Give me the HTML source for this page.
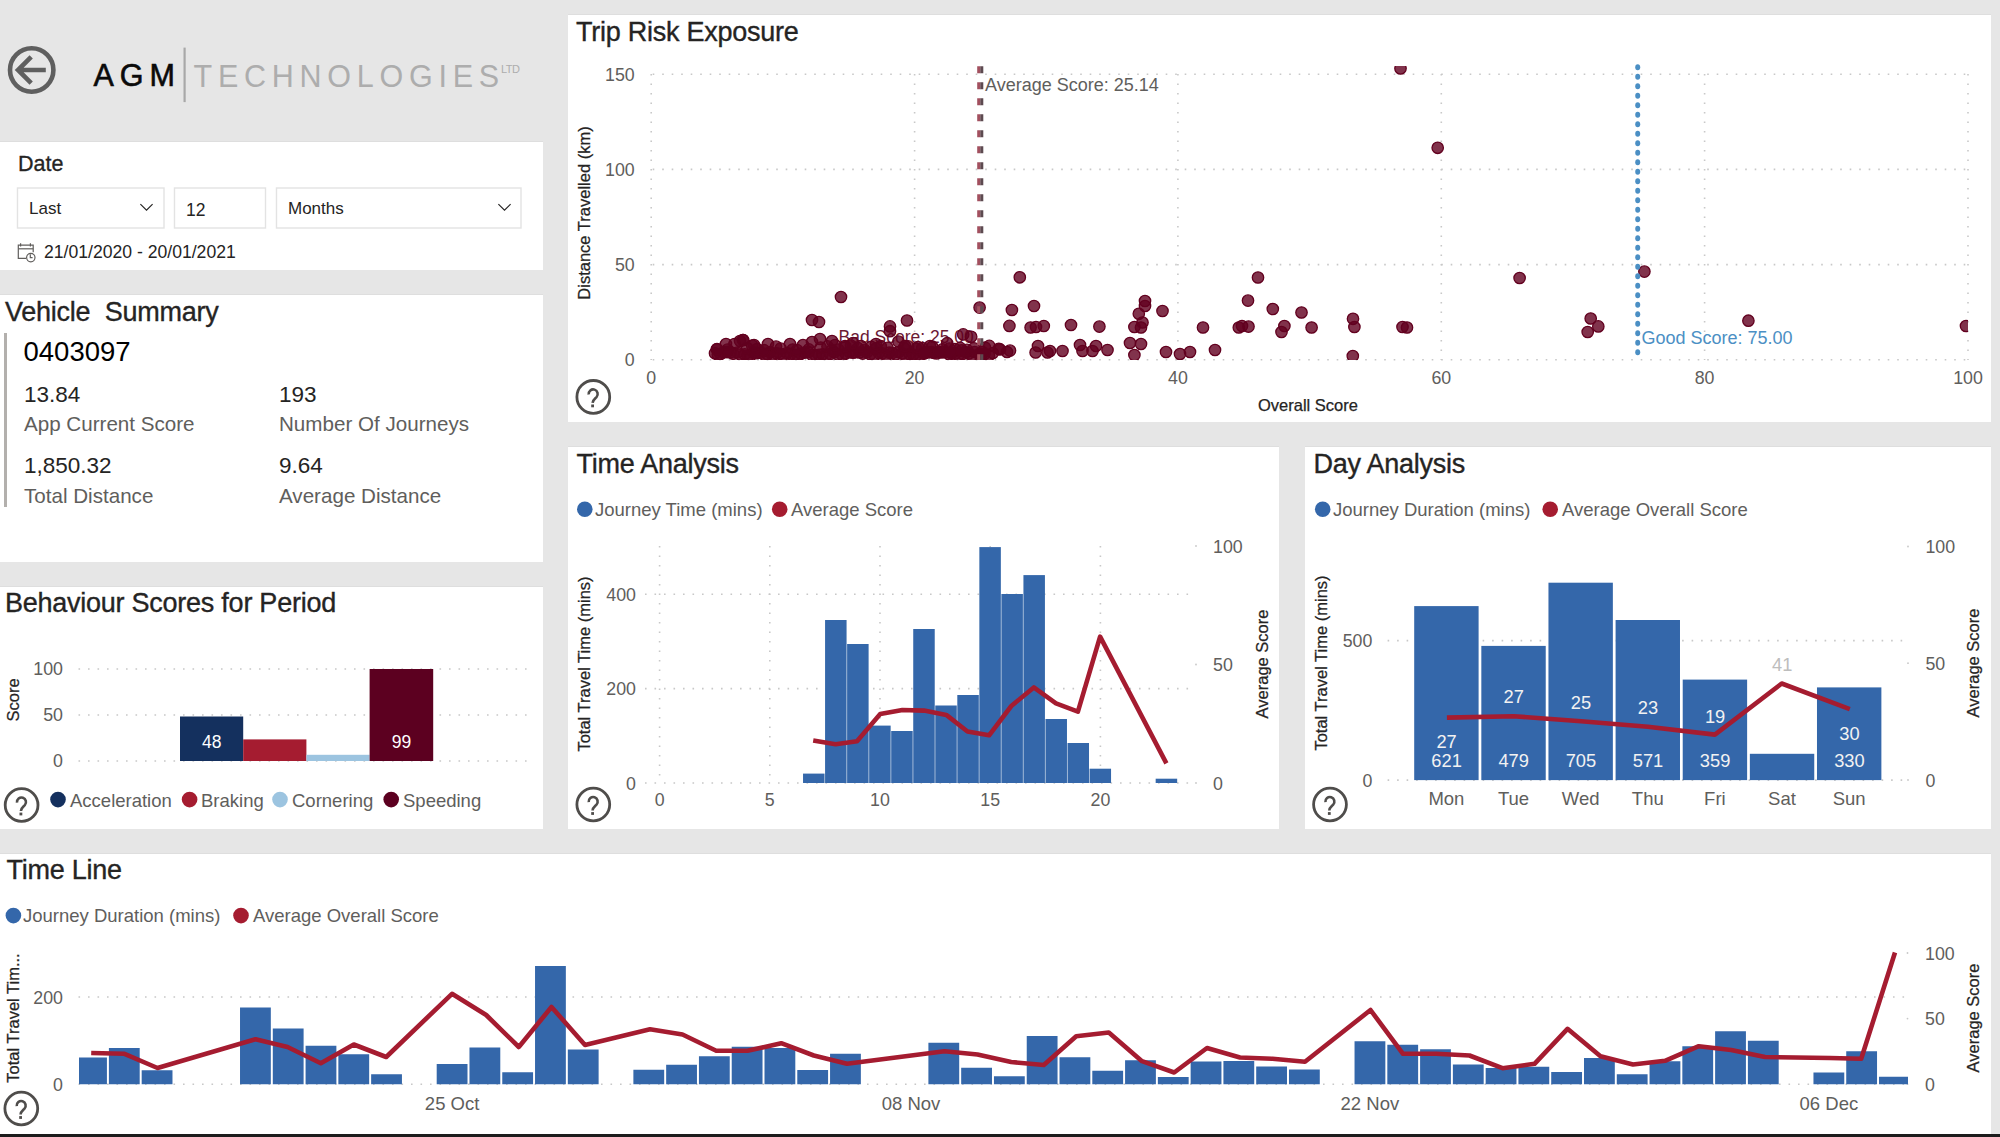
<!DOCTYPE html>
<html><head><meta charset="utf-8"><title>AGM Technologies - Vehicle Dashboard</title>
<style>
html,body{margin:0;padding:0;width:2000px;height:1137px;overflow:hidden;background:#e6e6e6;font-family:"Liberation Sans",sans-serif;}
.page{position:relative;width:2000px;height:1137px;}
</style></head><body><div class="page">
<svg width="2000" height="1137" viewBox="0 0 2000 1137" style="position:absolute;left:0;top:0" font-family='"Liberation Sans", sans-serif'>
<rect x="0.00" y="0.00" width="2000.00" height="1137.00" fill="#e6e6e6" />
<rect x="0.00" y="141.00" width="543.00" height="1.00" fill="#dedede" />
<rect x="0.00" y="142.00" width="543.00" height="128.00" fill="#ffffff" />
<rect x="0.00" y="294.00" width="543.00" height="1.00" fill="#dedede" />
<rect x="0.00" y="295.00" width="543.00" height="267.00" fill="#ffffff" />
<rect x="0.00" y="586.00" width="543.00" height="1.00" fill="#dedede" />
<rect x="0.00" y="587.00" width="543.00" height="242.00" fill="#ffffff" />
<rect x="568.00" y="14.00" width="1423.00" height="1.00" fill="#dedede" />
<rect x="568.00" y="15.00" width="1423.00" height="407.00" fill="#ffffff" />
<rect x="568.00" y="446.00" width="711.00" height="1.00" fill="#dedede" />
<rect x="568.00" y="447.00" width="711.00" height="382.00" fill="#ffffff" />
<rect x="1305.00" y="446.00" width="686.00" height="1.00" fill="#dedede" />
<rect x="1305.00" y="447.00" width="686.00" height="382.00" fill="#ffffff" />
<rect x="0.00" y="853.00" width="1991.00" height="1.00" fill="#dedede" />
<rect x="0.00" y="854.00" width="1991.00" height="280.00" fill="#ffffff" />
<rect x="0.00" y="1134.00" width="2000.00" height="3.00" fill="#1c1c1c" />
<g fill="none" stroke="#5f5f5f" stroke-width="4.6"><circle cx="31.7" cy="70" r="21.7"/><path d="M45.8,70 H18.5 M31.2,56.8 L18,70 L31.2,83.2"/></g>
<text x="93.5" y="86.3" font-size="30.5" fill="#0a0a0a" text-anchor="start" font-weight="normal" letter-spacing="6" stroke="#0a0a0a" stroke-width="0.6">AGM</text>
<rect x="183.50" y="47.60" width="2.20" height="54.50" fill="#a8a8a8" />
<text x="193.5" y="86.5" font-size="30.5" fill="#adadad" text-anchor="start" font-weight="normal" letter-spacing="5.75">TECHNOLOGIES</text>
<text x="501.0" y="73.0" font-size="11" fill="#adadad" text-anchor="start" font-weight="normal" letter-spacing="-0.5">LTD</text>
<text x="18.0" y="171.0" font-size="21.5" fill="#252423" text-anchor="start" font-weight="normal" stroke="#252423" stroke-width="0.3">Date</text>
<rect x="17.5" y="188" width="146.5" height="40" fill="#fff" stroke="#e3e3e3" stroke-width="1.4"/>
<rect x="174.5" y="188" width="91.0" height="40" fill="#fff" stroke="#e3e3e3" stroke-width="1.4"/>
<rect x="276.5" y="188" width="244.5" height="40" fill="#fff" stroke="#e3e3e3" stroke-width="1.4"/>
<text x="29.0" y="214.0" font-size="17" fill="#252423" text-anchor="start" font-weight="normal" >Last</text>
<text x="186.0" y="216.0" font-size="17.5" fill="#252423" text-anchor="start" font-weight="normal" >12</text>
<text x="288.0" y="214.0" font-size="17" fill="#252423" text-anchor="start" font-weight="normal" >Months</text>
<path d="M140.4,204.2 L146.5,210.2 L152.6,204.2" fill="none" stroke="#252423" stroke-width="1.15"/>
<path d="M498.4,204.2 L504.5,210.2 L510.6,204.2" fill="none" stroke="#252423" stroke-width="1.15"/>
<g fill="none" stroke="#605e5c" stroke-width="1.2"><path d="M26,258.3 H18.3 V245.1 H33.2 V252.3"/><path d="M18.3,248.8 H33.2"/><path d="M20.6,243.3 V246.5 M30.4,243.3 V246.5"/><circle cx="30.8" cy="257.6" r="4.2" fill="#fff"/><path d="M30.3,254.3 V257.6 H32.6"/></g>
<text x="44.0" y="258.0" font-size="17.6" fill="#252423" text-anchor="start" font-weight="normal" >21/01/2020 - 20/01/2021</text>
<text x="5" y="320.5" font-size="27" fill="#252423" stroke="#252423" stroke-width="0.35" letter-spacing="-0.25">Vehicle&#160;&#160;Summary</text>
<rect x="4.00" y="333.00" width="3.00" height="174.00" fill="#b3b0ad" />
<text x="23.5" y="361.0" font-size="27.5" fill="#000000" text-anchor="start" font-weight="normal" >0403097</text>
<text x="24.0" y="402.0" font-size="22.5" fill="#252423" text-anchor="start" font-weight="normal" >13.84</text>
<text x="24.0" y="430.5" font-size="20.6" fill="#605e5c" text-anchor="start" font-weight="normal" >App Current Score</text>
<text x="279.0" y="402.0" font-size="22.5" fill="#252423" text-anchor="start" font-weight="normal" >193</text>
<text x="279.0" y="430.5" font-size="20.6" fill="#605e5c" text-anchor="start" font-weight="normal" >Number Of Journeys</text>
<text x="24.0" y="473.0" font-size="22.5" fill="#252423" text-anchor="start" font-weight="normal" >1,850.32</text>
<text x="24.0" y="502.5" font-size="20.6" fill="#605e5c" text-anchor="start" font-weight="normal" >Total Distance</text>
<text x="279.0" y="473.0" font-size="22.5" fill="#252423" text-anchor="start" font-weight="normal" >9.64</text>
<text x="279.0" y="502.5" font-size="20.6" fill="#605e5c" text-anchor="start" font-weight="normal" >Average Distance</text>
<text x="5" y="612" font-size="27" fill="#252423" stroke="#252423" stroke-width="0.35" letter-spacing="-0.25">Behaviour Scores for Period</text>
<line x1="78.5" y1="669.0" x2="529.0" y2="669.0" stroke="#c8c8c8" stroke-width="1.6" stroke-dasharray="1.6 7.9"/>
<text x="63.0" y="675.3" font-size="17.8" fill="#605e5c" text-anchor="end" font-weight="normal" >100</text>
<line x1="78.5" y1="715.0" x2="529.0" y2="715.0" stroke="#c8c8c8" stroke-width="1.6" stroke-dasharray="1.6 7.9"/>
<text x="63.0" y="721.3" font-size="17.8" fill="#605e5c" text-anchor="end" font-weight="normal" >50</text>
<line x1="78.5" y1="761.0" x2="529.0" y2="761.0" stroke="#c8c8c8" stroke-width="1.6" stroke-dasharray="1.6 7.9"/>
<text x="63.0" y="767.3" font-size="17.8" fill="#605e5c" text-anchor="end" font-weight="normal" >0</text>
<text transform="translate(19,700) rotate(-90)" font-size="16.5" fill="#252423" stroke="#252423" stroke-width="0.25" text-anchor="middle">Score</text>
<rect x="180.00" y="716.50" width="63.20" height="44.50" fill="#14305e" />
<rect x="243.20" y="739.40" width="63.20" height="21.60" fill="#a51c30" />
<rect x="306.40" y="754.80" width="63.20" height="6.20" fill="#9cc4e0" />
<rect x="369.60" y="669.00" width="63.60" height="92.00" fill="#5c0020" />
<text x="211.7" y="748.0" font-size="17.5" fill="#ffffff" text-anchor="middle" font-weight="normal" >48</text>
<text x="401.5" y="748.0" font-size="17.5" fill="#ffffff" text-anchor="middle" font-weight="normal" >99</text>
<g transform="translate(21.6,805)" fill="none" stroke="#4f4d4b" stroke-width="2.8"><circle r="16.4"/><path d="M-4.6,-2.4 A4.5,4.6 0 1 1 3.2,0.2 C1.5,2 -0.6,3.2 -0.7,6" stroke-width="2.6"/><rect x="-2.1" y="7.6" width="2.8" height="2.8" fill="#4f4d4b" stroke="none"/></g>
<circle cx="58" cy="799.6" r="7.8" fill="#14305e"/>
<text x="70.0" y="806.6" font-size="18.5" fill="#605e5c" text-anchor="start" font-weight="normal" >Acceleration</text>
<circle cx="189.6" cy="799.6" r="7.8" fill="#a51c30"/>
<text x="201.0" y="806.6" font-size="18.5" fill="#605e5c" text-anchor="start" font-weight="normal" >Braking</text>
<circle cx="280" cy="799.6" r="7.8" fill="#9cc4e0"/>
<text x="292.0" y="806.6" font-size="18.5" fill="#605e5c" text-anchor="start" font-weight="normal" >Cornering</text>
<circle cx="391.2" cy="799.6" r="7.8" fill="#5c0020"/>
<text x="403.0" y="806.6" font-size="18.5" fill="#605e5c" text-anchor="start" font-weight="normal" >Speeding</text>
<text x="576" y="40.5" font-size="27" fill="#252423" stroke="#252423" stroke-width="0.35" letter-spacing="-0.25">Trip Risk Exposure</text>
<line x1="652.7" y1="359.8" x2="1968.0" y2="359.8" stroke="#c8c8c8" stroke-width="1.6" stroke-dasharray="1.6 7.9"/>
<text x="634.7" y="366.3" font-size="17.8" fill="#605e5c" text-anchor="end" font-weight="normal" >0</text>
<line x1="652.7" y1="264.6" x2="1968.0" y2="264.6" stroke="#c8c8c8" stroke-width="1.6" stroke-dasharray="1.6 7.9"/>
<text x="634.7" y="271.1" font-size="17.8" fill="#605e5c" text-anchor="end" font-weight="normal" >50</text>
<line x1="652.7" y1="169.4" x2="1968.0" y2="169.4" stroke="#c8c8c8" stroke-width="1.6" stroke-dasharray="1.6 7.9"/>
<text x="634.7" y="175.9" font-size="17.8" fill="#605e5c" text-anchor="end" font-weight="normal" >100</text>
<line x1="652.7" y1="74.2" x2="1968.0" y2="74.2" stroke="#c8c8c8" stroke-width="1.6" stroke-dasharray="1.6 7.9"/>
<text x="634.7" y="80.7" font-size="17.8" fill="#605e5c" text-anchor="end" font-weight="normal" >150</text>
<line x1="651.2" y1="74.0" x2="651.2" y2="360.0" stroke="#c8c8c8" stroke-width="1.6" stroke-dasharray="1.6 7.9"/>
<text x="651.2" y="384.0" font-size="17.8" fill="#605e5c" text-anchor="middle" font-weight="normal" >0</text>
<line x1="914.6" y1="74.0" x2="914.6" y2="360.0" stroke="#c8c8c8" stroke-width="1.6" stroke-dasharray="1.6 7.9"/>
<text x="914.6" y="384.0" font-size="17.8" fill="#605e5c" text-anchor="middle" font-weight="normal" >20</text>
<line x1="1177.9" y1="74.0" x2="1177.9" y2="360.0" stroke="#c8c8c8" stroke-width="1.6" stroke-dasharray="1.6 7.9"/>
<text x="1177.9" y="384.0" font-size="17.8" fill="#605e5c" text-anchor="middle" font-weight="normal" >40</text>
<line x1="1441.3" y1="74.0" x2="1441.3" y2="360.0" stroke="#c8c8c8" stroke-width="1.6" stroke-dasharray="1.6 7.9"/>
<text x="1441.3" y="384.0" font-size="17.8" fill="#605e5c" text-anchor="middle" font-weight="normal" >60</text>
<line x1="1704.6" y1="74.0" x2="1704.6" y2="360.0" stroke="#c8c8c8" stroke-width="1.6" stroke-dasharray="1.6 7.9"/>
<text x="1704.6" y="384.0" font-size="17.8" fill="#605e5c" text-anchor="middle" font-weight="normal" >80</text>
<line x1="1968.0" y1="74.0" x2="1968.0" y2="360.0" stroke="#c8c8c8" stroke-width="1.6" stroke-dasharray="1.6 7.9"/>
<text x="1968.0" y="384.0" font-size="17.8" fill="#605e5c" text-anchor="middle" font-weight="normal" >100</text>
<text x="1308.0" y="411.0" font-size="16.5" fill="#252423" text-anchor="middle" font-weight="normal" stroke="#252423" stroke-width="0.25">Overall Score</text>
<text transform="translate(590,213) rotate(-90)" font-size="16.5" fill="#252423" stroke="#252423" stroke-width="0.25" text-anchor="middle">Distance Travelled (km)</text>
<g transform="translate(593.3,396.9)" fill="none" stroke="#4f4d4b" stroke-width="2.8"><circle r="16.4"/><path d="M-4.6,-2.4 A4.5,4.6 0 1 1 3.2,0.2 C1.5,2 -0.6,3.2 -0.7,6" stroke-width="2.6"/><rect x="-2.1" y="7.6" width="2.8" height="2.8" fill="#4f4d4b" stroke="none"/></g>
<defs><clipPath id="sc"><rect x="651" y="66" width="1317" height="294"/></clipPath></defs>
<text x="838.5" y="342.5" font-size="17.5" fill="#6b1a35" text-anchor="start" font-weight="normal" >Bad Score: 25.00</text>
<g clip-path="url(#sc)" fill="#62001f" fill-opacity="0.8" stroke="#62001f" stroke-width="1.3">
<circle cx="715.0" cy="353.3" r="5.7"/>
<circle cx="717.8" cy="354.6" r="5.7"/>
<circle cx="720.4" cy="354.1" r="5.7"/>
<circle cx="723.7" cy="352.2" r="5.7"/>
<circle cx="727.2" cy="352.1" r="5.7"/>
<circle cx="730.6" cy="352.3" r="5.7"/>
<circle cx="733.2" cy="353.7" r="5.7"/>
<circle cx="737.4" cy="352.5" r="5.7"/>
<circle cx="740.3" cy="354.5" r="5.7"/>
<circle cx="744.7" cy="354.3" r="5.7"/>
<circle cx="748.0" cy="355.9" r="5.7"/>
<circle cx="750.6" cy="355.4" r="5.7"/>
<circle cx="753.7" cy="352.6" r="5.7"/>
<circle cx="756.4" cy="353.2" r="5.7"/>
<circle cx="760.6" cy="352.7" r="5.7"/>
<circle cx="764.2" cy="354.6" r="5.7"/>
<circle cx="767.5" cy="354.2" r="5.7"/>
<circle cx="770.1" cy="352.2" r="5.7"/>
<circle cx="773.0" cy="354.7" r="5.7"/>
<circle cx="776.4" cy="353.3" r="5.7"/>
<circle cx="780.0" cy="353.8" r="5.7"/>
<circle cx="783.1" cy="355.2" r="5.7"/>
<circle cx="787.0" cy="353.0" r="5.7"/>
<circle cx="790.7" cy="354.1" r="5.7"/>
<circle cx="794.9" cy="354.9" r="5.7"/>
<circle cx="798.0" cy="355.9" r="5.7"/>
<circle cx="800.8" cy="353.7" r="5.7"/>
<circle cx="804.8" cy="352.6" r="5.7"/>
<circle cx="808.2" cy="352.2" r="5.7"/>
<circle cx="812.1" cy="355.1" r="5.7"/>
<circle cx="815.7" cy="355.5" r="5.7"/>
<circle cx="818.9" cy="354.8" r="5.7"/>
<circle cx="822.5" cy="354.3" r="5.7"/>
<circle cx="826.0" cy="355.4" r="5.7"/>
<circle cx="830.3" cy="353.9" r="5.7"/>
<circle cx="834.2" cy="352.2" r="5.7"/>
<circle cx="838.1" cy="354.6" r="5.7"/>
<circle cx="842.6" cy="355.3" r="5.7"/>
<circle cx="845.6" cy="353.5" r="5.7"/>
<circle cx="849.5" cy="352.1" r="5.7"/>
<circle cx="852.9" cy="352.7" r="5.7"/>
<circle cx="855.6" cy="352.2" r="5.7"/>
<circle cx="859.7" cy="352.5" r="5.7"/>
<circle cx="862.7" cy="353.6" r="5.7"/>
<circle cx="866.9" cy="352.3" r="5.7"/>
<circle cx="870.3" cy="354.2" r="5.7"/>
<circle cx="874.6" cy="355.3" r="5.7"/>
<circle cx="878.8" cy="353.1" r="5.7"/>
<circle cx="882.1" cy="353.4" r="5.7"/>
<circle cx="886.4" cy="355.8" r="5.7"/>
<circle cx="889.2" cy="352.7" r="5.7"/>
<circle cx="892.2" cy="352.9" r="5.7"/>
<circle cx="895.6" cy="354.4" r="5.7"/>
<circle cx="898.7" cy="352.0" r="5.7"/>
<circle cx="902.0" cy="353.5" r="5.7"/>
<circle cx="905.6" cy="355.8" r="5.7"/>
<circle cx="909.5" cy="354.1" r="5.7"/>
<circle cx="913.2" cy="354.7" r="5.7"/>
<circle cx="915.8" cy="355.6" r="5.7"/>
<circle cx="919.9" cy="355.5" r="5.7"/>
<circle cx="924.0" cy="353.6" r="5.7"/>
<circle cx="927.3" cy="352.4" r="5.7"/>
<circle cx="931.1" cy="352.2" r="5.7"/>
<circle cx="933.7" cy="352.8" r="5.7"/>
<circle cx="936.5" cy="353.4" r="5.7"/>
<circle cx="939.1" cy="352.0" r="5.7"/>
<circle cx="941.9" cy="352.4" r="5.7"/>
<circle cx="945.2" cy="352.1" r="5.7"/>
<circle cx="949.4" cy="354.5" r="5.7"/>
<circle cx="952.2" cy="353.0" r="5.7"/>
<circle cx="955.4" cy="353.5" r="5.7"/>
<circle cx="958.2" cy="355.4" r="5.7"/>
<circle cx="962.6" cy="353.9" r="5.7"/>
<circle cx="966.1" cy="352.3" r="5.7"/>
<circle cx="968.8" cy="353.4" r="5.7"/>
<circle cx="971.8" cy="355.3" r="5.7"/>
<circle cx="974.7" cy="352.1" r="5.7"/>
<circle cx="979.1" cy="354.1" r="5.7"/>
<circle cx="981.9" cy="354.2" r="5.7"/>
<circle cx="984.4" cy="354.1" r="5.7"/>
<circle cx="988.9" cy="355.5" r="5.7"/>
<circle cx="992.8" cy="353.0" r="5.7"/>
<circle cx="717.0" cy="349.4" r="5.7"/>
<circle cx="727.6" cy="349.6" r="5.7"/>
<circle cx="747.2" cy="348.1" r="5.7"/>
<circle cx="752.2" cy="345.6" r="5.7"/>
<circle cx="757.1" cy="349.0" r="5.7"/>
<circle cx="764.0" cy="350.2" r="5.7"/>
<circle cx="776.0" cy="346.6" r="5.7"/>
<circle cx="780.6" cy="348.6" r="5.7"/>
<circle cx="792.7" cy="349.5" r="5.7"/>
<circle cx="797.0" cy="350.0" r="5.7"/>
<circle cx="808.8" cy="349.4" r="5.7"/>
<circle cx="820.7" cy="347.5" r="5.7"/>
<circle cx="827.5" cy="346.4" r="5.7"/>
<circle cx="831.9" cy="350.0" r="5.7"/>
<circle cx="838.3" cy="349.6" r="5.7"/>
<circle cx="845.3" cy="347.3" r="5.7"/>
<circle cx="850.9" cy="345.6" r="5.7"/>
<circle cx="857.8" cy="348.1" r="5.7"/>
<circle cx="864.6" cy="349.9" r="5.7"/>
<circle cx="871.1" cy="346.8" r="5.7"/>
<circle cx="876.0" cy="348.4" r="5.7"/>
<circle cx="880.8" cy="346.2" r="5.7"/>
<circle cx="887.5" cy="347.8" r="5.7"/>
<circle cx="904.0" cy="348.1" r="5.7"/>
<circle cx="908.1" cy="346.4" r="5.7"/>
<circle cx="916.6" cy="349.1" r="5.7"/>
<circle cx="922.3" cy="348.1" r="5.7"/>
<circle cx="932.3" cy="346.7" r="5.7"/>
<circle cx="942.6" cy="349.3" r="5.7"/>
<circle cx="949.3" cy="348.6" r="5.7"/>
<circle cx="954.9" cy="349.0" r="5.7"/>
<circle cx="960.2" cy="347.9" r="5.7"/>
<circle cx="967.0" cy="349.9" r="5.7"/>
<circle cx="973.9" cy="348.3" r="5.7"/>
<circle cx="985.1" cy="347.7" r="5.7"/>
<circle cx="989.3" cy="345.9" r="5.7"/>
<circle cx="726.0" cy="344.0" r="5.7"/>
<circle cx="740.0" cy="341.0" r="5.7"/>
<circle cx="743.0" cy="340.0" r="5.7"/>
<circle cx="754.0" cy="345.0" r="5.7"/>
<circle cx="768.0" cy="344.0" r="5.7"/>
<circle cx="790.0" cy="344.0" r="5.7"/>
<circle cx="803.0" cy="345.0" r="5.7"/>
<circle cx="812.0" cy="342.0" r="5.7"/>
<circle cx="853.0" cy="343.0" r="5.7"/>
<circle cx="861.0" cy="346.0" r="5.7"/>
<circle cx="876.0" cy="344.0" r="5.7"/>
<circle cx="905.0" cy="346.0" r="5.7"/>
<circle cx="918.0" cy="347.0" r="5.7"/>
<circle cx="930.0" cy="346.0" r="5.7"/>
<circle cx="835.0" cy="345.0" r="5.7"/>
<circle cx="845.0" cy="346.0" r="5.7"/>
<circle cx="841.0" cy="297.0" r="5.7"/>
<circle cx="812.0" cy="320.0" r="5.7"/>
<circle cx="819.0" cy="322.0" r="5.7"/>
<circle cx="907.0" cy="320.5" r="5.7"/>
<circle cx="890.0" cy="326.4" r="5.7"/>
<circle cx="890.0" cy="331.2" r="5.7"/>
<circle cx="898.4" cy="341.6" r="5.7"/>
<circle cx="820.0" cy="339.0" r="5.7"/>
<circle cx="832.0" cy="341.0" r="5.7"/>
<circle cx="963.2" cy="334.4" r="5.7"/>
<circle cx="971.2" cy="336.8" r="5.7"/>
<circle cx="979.6" cy="307.6" r="5.7"/>
<circle cx="947.2" cy="343.2" r="5.7"/>
<circle cx="939.2" cy="352.0" r="5.7"/>
<circle cx="950.4" cy="352.8" r="5.7"/>
<circle cx="961.6" cy="350.4" r="5.7"/>
<circle cx="982.4" cy="352.0" r="5.7"/>
<circle cx="998.8" cy="348.8" r="5.7"/>
<circle cx="924.8" cy="352.8" r="5.7"/>
<circle cx="743.0" cy="340.0" r="5.7"/>
<circle cx="717.0" cy="349.0" r="5.7"/>
<circle cx="734.5" cy="344.0" r="5.7"/>
<circle cx="1019.8" cy="277.3" r="5.7"/>
<circle cx="1011.9" cy="310.0" r="5.7"/>
<circle cx="1034.0" cy="306.0" r="5.7"/>
<circle cx="1009.4" cy="325.9" r="5.7"/>
<circle cx="1030.6" cy="327.5" r="5.7"/>
<circle cx="1036.0" cy="327.0" r="5.7"/>
<circle cx="1043.8" cy="326.0" r="5.7"/>
<circle cx="1071.0" cy="325.0" r="5.7"/>
<circle cx="1099.4" cy="326.6" r="5.7"/>
<circle cx="1145.0" cy="301.0" r="5.7"/>
<circle cx="1145.0" cy="306.0" r="5.7"/>
<circle cx="1138.8" cy="313.8" r="5.7"/>
<circle cx="1142.5" cy="322.5" r="5.7"/>
<circle cx="1134.4" cy="327.0" r="5.7"/>
<circle cx="1141.0" cy="327.5" r="5.7"/>
<circle cx="1162.5" cy="311.0" r="5.7"/>
<circle cx="1203.0" cy="327.5" r="5.7"/>
<circle cx="1000.0" cy="349.4" r="5.7"/>
<circle cx="1007.0" cy="352.0" r="5.7"/>
<circle cx="1010.0" cy="350.6" r="5.7"/>
<circle cx="1038.0" cy="346.0" r="5.7"/>
<circle cx="1035.6" cy="352.5" r="5.7"/>
<circle cx="1047.5" cy="352.5" r="5.7"/>
<circle cx="1050.0" cy="351.0" r="5.7"/>
<circle cx="1062.5" cy="351.0" r="5.7"/>
<circle cx="1080.0" cy="345.0" r="5.7"/>
<circle cx="1082.5" cy="351.0" r="5.7"/>
<circle cx="1092.5" cy="351.0" r="5.7"/>
<circle cx="1096.0" cy="346.0" r="5.7"/>
<circle cx="1107.5" cy="350.0" r="5.7"/>
<circle cx="1130.0" cy="343.0" r="5.7"/>
<circle cx="1141.0" cy="344.0" r="5.7"/>
<circle cx="1134.4" cy="355.0" r="5.7"/>
<circle cx="1166.0" cy="352.0" r="5.7"/>
<circle cx="1180.0" cy="354.0" r="5.7"/>
<circle cx="1190.0" cy="352.0" r="5.7"/>
<circle cx="1215.0" cy="350.0" r="5.7"/>
<circle cx="1258.0" cy="277.5" r="5.7"/>
<circle cx="1248.0" cy="300.6" r="5.7"/>
<circle cx="1272.8" cy="309.0" r="5.7"/>
<circle cx="1301.5" cy="312.5" r="5.7"/>
<circle cx="1238.8" cy="327.5" r="5.7"/>
<circle cx="1242.0" cy="326.0" r="5.7"/>
<circle cx="1248.5" cy="326.6" r="5.7"/>
<circle cx="1284.4" cy="326.0" r="5.7"/>
<circle cx="1281.5" cy="332.0" r="5.7"/>
<circle cx="1311.6" cy="327.5" r="5.7"/>
<circle cx="1353.0" cy="318.8" r="5.7"/>
<circle cx="1354.4" cy="327.0" r="5.7"/>
<circle cx="1352.8" cy="356.0" r="5.7"/>
<circle cx="1402.5" cy="327.0" r="5.7"/>
<circle cx="1407.0" cy="327.5" r="5.7"/>
<circle cx="1400.5" cy="68.5" r="5.7"/>
<circle cx="1437.7" cy="147.8" r="5.7"/>
<circle cx="1519.6" cy="278.0" r="5.7"/>
<circle cx="1644.4" cy="271.6" r="5.7"/>
<circle cx="1590.7" cy="318.5" r="5.7"/>
<circle cx="1598.3" cy="326.4" r="5.7"/>
<circle cx="1587.7" cy="332.0" r="5.7"/>
<circle cx="1748.4" cy="320.7" r="5.7"/>
<circle cx="1966.0" cy="326.0" r="5.7"/>
</g>
<line x1="978.8" y1="66.3" x2="978.8" y2="360" stroke="#a2505f" stroke-width="3.2" stroke-dasharray="7 9"/>
<line x1="981.8" y1="66.3" x2="981.8" y2="360" stroke="#5d4a50" stroke-width="3" stroke-dasharray="7 9"/>
<text x="985.0" y="91.3" font-size="18" fill="#605e5c" text-anchor="start" font-weight="normal" >Average Score: 25.14</text>
<ellipse cx="1637.7" cy="67.25" rx="2.5" ry="3" fill="#4b8fc4"/>
<ellipse cx="1637.7" cy="76.75" rx="2.5" ry="3" fill="#4b8fc4"/>
<ellipse cx="1637.7" cy="86.25" rx="2.5" ry="3" fill="#4b8fc4"/>
<ellipse cx="1637.7" cy="95.75" rx="2.5" ry="3" fill="#4b8fc4"/>
<ellipse cx="1637.7" cy="105.25" rx="2.5" ry="3" fill="#4b8fc4"/>
<ellipse cx="1637.7" cy="114.75" rx="2.5" ry="3" fill="#4b8fc4"/>
<ellipse cx="1637.7" cy="124.25" rx="2.5" ry="3" fill="#4b8fc4"/>
<ellipse cx="1637.7" cy="133.75" rx="2.5" ry="3" fill="#4b8fc4"/>
<ellipse cx="1637.7" cy="143.25" rx="2.5" ry="3" fill="#4b8fc4"/>
<ellipse cx="1637.7" cy="152.75" rx="2.5" ry="3" fill="#4b8fc4"/>
<ellipse cx="1637.7" cy="162.25" rx="2.5" ry="3" fill="#4b8fc4"/>
<ellipse cx="1637.7" cy="171.75" rx="2.5" ry="3" fill="#4b8fc4"/>
<ellipse cx="1637.7" cy="181.25" rx="2.5" ry="3" fill="#4b8fc4"/>
<ellipse cx="1637.7" cy="190.75" rx="2.5" ry="3" fill="#4b8fc4"/>
<ellipse cx="1637.7" cy="200.25" rx="2.5" ry="3" fill="#4b8fc4"/>
<ellipse cx="1637.7" cy="209.75" rx="2.5" ry="3" fill="#4b8fc4"/>
<ellipse cx="1637.7" cy="219.25" rx="2.5" ry="3" fill="#4b8fc4"/>
<ellipse cx="1637.7" cy="228.75" rx="2.5" ry="3" fill="#4b8fc4"/>
<ellipse cx="1637.7" cy="238.25" rx="2.5" ry="3" fill="#4b8fc4"/>
<ellipse cx="1637.7" cy="247.75" rx="2.5" ry="3" fill="#4b8fc4"/>
<ellipse cx="1637.7" cy="257.25" rx="2.5" ry="3" fill="#4b8fc4"/>
<ellipse cx="1637.7" cy="266.75" rx="2.5" ry="3" fill="#4b8fc4"/>
<ellipse cx="1637.7" cy="276.25" rx="2.5" ry="3" fill="#4b8fc4"/>
<ellipse cx="1637.7" cy="285.75" rx="2.5" ry="3" fill="#4b8fc4"/>
<ellipse cx="1637.7" cy="295.25" rx="2.5" ry="3" fill="#4b8fc4"/>
<ellipse cx="1637.7" cy="304.75" rx="2.5" ry="3" fill="#4b8fc4"/>
<ellipse cx="1637.7" cy="314.25" rx="2.5" ry="3" fill="#4b8fc4"/>
<ellipse cx="1637.7" cy="323.75" rx="2.5" ry="3" fill="#4b8fc4"/>
<ellipse cx="1637.7" cy="333.25" rx="2.5" ry="3" fill="#4b8fc4"/>
<ellipse cx="1637.7" cy="342.75" rx="2.5" ry="3" fill="#4b8fc4"/>
<ellipse cx="1637.7" cy="352.25" rx="2.5" ry="3" fill="#4b8fc4"/>
<text x="1641.5" y="344.0" font-size="18" fill="#4b8fc4" text-anchor="start" font-weight="normal" >Good Score: 75.00</text>
<text x="576.5" y="472.8" font-size="27" fill="#252423" stroke="#252423" stroke-width="0.35" letter-spacing="-0.25">Time Analysis</text>
<circle cx="584.8" cy="509.3" r="7.8" fill="#3467aa"/>
<text x="595.0" y="516.3" font-size="18.5" fill="#605e5c" text-anchor="start" font-weight="normal" >Journey Time (mins)</text>
<circle cx="779.7" cy="509.3" r="7.8" fill="#a51c30"/>
<text x="791.0" y="516.3" font-size="18.5" fill="#605e5c" text-anchor="start" font-weight="normal" >Average Score</text>
<line x1="645.0" y1="783.0" x2="1195.0" y2="783.0" stroke="#c8c8c8" stroke-width="1.6" stroke-dasharray="1.6 7.9"/>
<text x="636.0" y="789.5" font-size="17.8" fill="#605e5c" text-anchor="end" font-weight="normal" >0</text>
<line x1="645.0" y1="688.6" x2="1195.0" y2="688.6" stroke="#c8c8c8" stroke-width="1.6" stroke-dasharray="1.6 7.9"/>
<text x="636.0" y="695.1" font-size="17.8" fill="#605e5c" text-anchor="end" font-weight="normal" >200</text>
<line x1="645.0" y1="594.3" x2="1195.0" y2="594.3" stroke="#c8c8c8" stroke-width="1.6" stroke-dasharray="1.6 7.9"/>
<text x="636.0" y="600.8" font-size="17.8" fill="#605e5c" text-anchor="end" font-weight="normal" >400</text>
<circle cx="1196" cy="783.0" r="0.9" fill="#c8c8c8"/>
<text x="1213.0" y="789.5" font-size="17.8" fill="#605e5c" text-anchor="start" font-weight="normal" >0</text>
<circle cx="1196" cy="664.5" r="0.9" fill="#c8c8c8"/>
<text x="1213.0" y="671.0" font-size="17.8" fill="#605e5c" text-anchor="start" font-weight="normal" >50</text>
<circle cx="1196" cy="546.0" r="0.9" fill="#c8c8c8"/>
<text x="1213.0" y="552.5" font-size="17.8" fill="#605e5c" text-anchor="start" font-weight="normal" >100</text>
<line x1="659.6" y1="546.0" x2="659.6" y2="783.0" stroke="#c8c8c8" stroke-width="1.6" stroke-dasharray="1.6 7.9"/>
<text x="659.6" y="806.0" font-size="17.8" fill="#605e5c" text-anchor="middle" font-weight="normal" >0</text>
<line x1="769.8" y1="546.0" x2="769.8" y2="783.0" stroke="#c8c8c8" stroke-width="1.6" stroke-dasharray="1.6 7.9"/>
<text x="769.8" y="806.0" font-size="17.8" fill="#605e5c" text-anchor="middle" font-weight="normal" >5</text>
<line x1="880.0" y1="546.0" x2="880.0" y2="783.0" stroke="#c8c8c8" stroke-width="1.6" stroke-dasharray="1.6 7.9"/>
<text x="880.0" y="806.0" font-size="17.8" fill="#605e5c" text-anchor="middle" font-weight="normal" >10</text>
<line x1="990.2" y1="546.0" x2="990.2" y2="783.0" stroke="#c8c8c8" stroke-width="1.6" stroke-dasharray="1.6 7.9"/>
<text x="990.2" y="806.0" font-size="17.8" fill="#605e5c" text-anchor="middle" font-weight="normal" >15</text>
<line x1="1100.4" y1="546.0" x2="1100.4" y2="783.0" stroke="#c8c8c8" stroke-width="1.6" stroke-dasharray="1.6 7.9"/>
<text x="1100.4" y="806.0" font-size="17.8" fill="#605e5c" text-anchor="middle" font-weight="normal" >20</text>
<text transform="translate(590,664) rotate(-90)" font-size="16.5" fill="#252423" stroke="#252423" stroke-width="0.25" text-anchor="middle">Total Travel Time (mins)</text>
<text transform="translate(1268,664) rotate(-90)" font-size="16.5" fill="#252423" stroke="#252423" stroke-width="0.25" text-anchor="middle">Average Score</text>
<rect x="803.03" y="773.60" width="21.50" height="9.40" fill="#3467aa" />
<rect x="825.07" y="620.00" width="21.50" height="163.00" fill="#3467aa" />
<rect x="847.11" y="644.00" width="21.50" height="139.00" fill="#3467aa" />
<rect x="869.15" y="725.60" width="21.50" height="57.40" fill="#3467aa" />
<rect x="891.19" y="731.00" width="21.50" height="52.00" fill="#3467aa" />
<rect x="913.23" y="629.00" width="21.50" height="154.00" fill="#3467aa" />
<rect x="935.27" y="705.50" width="21.50" height="77.50" fill="#3467aa" />
<rect x="957.31" y="695.00" width="21.50" height="88.00" fill="#3467aa" />
<rect x="979.35" y="547.10" width="21.50" height="235.90" fill="#3467aa" />
<rect x="1001.39" y="594.00" width="21.50" height="189.00" fill="#3467aa" />
<rect x="1023.43" y="575.10" width="21.50" height="207.90" fill="#3467aa" />
<rect x="1045.47" y="719.00" width="21.50" height="64.00" fill="#3467aa" />
<rect x="1067.51" y="743.00" width="21.50" height="40.00" fill="#3467aa" />
<rect x="1089.55" y="768.70" width="21.50" height="14.30" fill="#3467aa" />
<rect x="1155.67" y="778.70" width="21.50" height="4.30" fill="#3467aa" />
<polyline points="813.2,740.4 835.6,744.2 857.0,741.2 880.2,714.1 902.4,710.0 924.1,710.6 946.3,714.9 967.5,731.5 989.1,735.3 1011.3,706.0 1033.8,687.4 1056.0,703.4 1077.9,711.6 1100.1,636.6 1166.4,763.4" fill="none" stroke="#a51c30" stroke-width="4.6" stroke-linejoin="round"/>
<g transform="translate(593.3,804.5)" fill="none" stroke="#4f4d4b" stroke-width="2.8"><circle r="16.4"/><path d="M-4.6,-2.4 A4.5,4.6 0 1 1 3.2,0.2 C1.5,2 -0.6,3.2 -0.7,6" stroke-width="2.6"/><rect x="-2.1" y="7.6" width="2.8" height="2.8" fill="#4f4d4b" stroke="none"/></g>
<text x="1313.5" y="472.8" font-size="27" fill="#252423" stroke="#252423" stroke-width="0.35" letter-spacing="-0.25">Day Analysis</text>
<circle cx="1322.7" cy="509.2" r="7.8" fill="#3467aa"/>
<text x="1333.0" y="516.3" font-size="18.5" fill="#605e5c" text-anchor="start" font-weight="normal" >Journey Duration (mins)</text>
<circle cx="1550.2" cy="509.2" r="7.8" fill="#a51c30"/>
<text x="1562.0" y="516.3" font-size="18.5" fill="#605e5c" text-anchor="start" font-weight="normal" >Average Overall Score</text>
<line x1="1387.6" y1="780.1" x2="1908.0" y2="780.1" stroke="#c8c8c8" stroke-width="1.6" stroke-dasharray="1.6 7.9"/>
<text x="1372.4" y="786.6" font-size="17.8" fill="#605e5c" text-anchor="end" font-weight="normal" >0</text>
<line x1="1387.6" y1="640.6" x2="1908.0" y2="640.6" stroke="#c8c8c8" stroke-width="1.6" stroke-dasharray="1.6 7.9"/>
<text x="1372.4" y="647.1" font-size="17.8" fill="#605e5c" text-anchor="end" font-weight="normal" >500</text>
<circle cx="1908" cy="780.0" r="0.9" fill="#c8c8c8"/>
<text x="1925.4" y="786.5" font-size="17.8" fill="#605e5c" text-anchor="start" font-weight="normal" >0</text>
<circle cx="1908" cy="663.2" r="0.9" fill="#c8c8c8"/>
<text x="1925.4" y="669.8" font-size="17.8" fill="#605e5c" text-anchor="start" font-weight="normal" >50</text>
<circle cx="1908" cy="546.5" r="0.9" fill="#c8c8c8"/>
<text x="1925.4" y="553.0" font-size="17.8" fill="#605e5c" text-anchor="start" font-weight="normal" >100</text>
<text transform="translate(1327,663) rotate(-90)" font-size="16.5" fill="#252423" stroke="#252423" stroke-width="0.25" text-anchor="middle">Total Travel Time (mins)</text>
<text transform="translate(1979,663) rotate(-90)" font-size="16.5" fill="#252423" stroke="#252423" stroke-width="0.25" text-anchor="middle">Average Score</text>
<rect x="1414.20" y="606.10" width="64.40" height="174.00" fill="#3467aa" />
<text x="1446.4" y="804.6" font-size="18.5" fill="#605e5c" text-anchor="middle" font-weight="normal" >Mon</text>
<rect x="1481.33" y="645.90" width="64.40" height="134.20" fill="#3467aa" />
<text x="1513.5" y="804.6" font-size="18.5" fill="#605e5c" text-anchor="middle" font-weight="normal" >Tue</text>
<rect x="1548.46" y="582.70" width="64.40" height="197.40" fill="#3467aa" />
<text x="1580.7" y="804.6" font-size="18.5" fill="#605e5c" text-anchor="middle" font-weight="normal" >Wed</text>
<rect x="1615.59" y="620.00" width="64.40" height="160.10" fill="#3467aa" />
<text x="1647.8" y="804.6" font-size="18.5" fill="#605e5c" text-anchor="middle" font-weight="normal" >Thu</text>
<rect x="1682.72" y="679.60" width="64.40" height="100.50" fill="#3467aa" />
<text x="1714.9" y="804.6" font-size="18.5" fill="#605e5c" text-anchor="middle" font-weight="normal" >Fri</text>
<rect x="1749.85" y="753.80" width="64.40" height="26.30" fill="#3467aa" />
<text x="1782.0" y="804.6" font-size="18.5" fill="#605e5c" text-anchor="middle" font-weight="normal" >Sat</text>
<rect x="1816.98" y="687.40" width="64.40" height="92.70" fill="#3467aa" />
<text x="1849.2" y="804.6" font-size="18.5" fill="#605e5c" text-anchor="middle" font-weight="normal" >Sun</text>
<polyline points="1446.9,717.6 1513.6,716.2 1581.1,721.2 1647.8,726.8 1714.9,734.6 1781.7,683.5 1849.8,709.1" fill="none" stroke="#a51c30" stroke-width="4.6" stroke-linejoin="round"/>
<text x="1446.6" y="747.5" font-size="18.3" fill="#f2f2f2" text-anchor="middle" font-weight="normal" >27</text>
<text x="1446.6" y="767.4" font-size="18.3" fill="#f2f2f2" text-anchor="middle" font-weight="normal" >621</text>
<text x="1513.7" y="703.0" font-size="18.3" fill="#f2f2f2" text-anchor="middle" font-weight="normal" >27</text>
<text x="1513.7" y="767.4" font-size="18.3" fill="#f2f2f2" text-anchor="middle" font-weight="normal" >479</text>
<text x="1580.9" y="708.5" font-size="18.3" fill="#f2f2f2" text-anchor="middle" font-weight="normal" >25</text>
<text x="1580.9" y="767.4" font-size="18.3" fill="#f2f2f2" text-anchor="middle" font-weight="normal" >705</text>
<text x="1648.0" y="714.0" font-size="18.3" fill="#f2f2f2" text-anchor="middle" font-weight="normal" >23</text>
<text x="1648.0" y="767.4" font-size="18.3" fill="#f2f2f2" text-anchor="middle" font-weight="normal" >571</text>
<text x="1715.1" y="722.5" font-size="18.3" fill="#f2f2f2" text-anchor="middle" font-weight="normal" >19</text>
<text x="1715.1" y="767.4" font-size="18.3" fill="#f2f2f2" text-anchor="middle" font-weight="normal" >359</text>
<text x="1782.2" y="671.0" font-size="18.3" fill="#bdbdbd" text-anchor="middle" font-weight="normal" >41</text>
<text x="1849.4" y="740.0" font-size="18.3" fill="#f2f2f2" text-anchor="middle" font-weight="normal" >30</text>
<text x="1849.4" y="767.4" font-size="18.3" fill="#f2f2f2" text-anchor="middle" font-weight="normal" >330</text>
<g transform="translate(1330,804.5)" fill="none" stroke="#4f4d4b" stroke-width="2.8"><circle r="16.4"/><path d="M-4.6,-2.4 A4.5,4.6 0 1 1 3.2,0.2 C1.5,2 -0.6,3.2 -0.7,6" stroke-width="2.6"/><rect x="-2.1" y="7.6" width="2.8" height="2.8" fill="#4f4d4b" stroke="none"/></g>
<text x="6.5" y="878.8" font-size="27" fill="#252423" stroke="#252423" stroke-width="0.35" letter-spacing="-0.25">Time Line</text>
<circle cx="13.4" cy="915.6" r="7.8" fill="#3467aa"/>
<text x="23.0" y="922.3" font-size="18.5" fill="#605e5c" text-anchor="start" font-weight="normal" >Journey Duration (mins)</text>
<circle cx="241" cy="915.6" r="7.8" fill="#a51c30"/>
<text x="253.0" y="922.3" font-size="18.5" fill="#605e5c" text-anchor="start" font-weight="normal" >Average Overall Score</text>
<line x1="78.5" y1="1084.2" x2="1907.5" y2="1084.2" stroke="#c8c8c8" stroke-width="1.6" stroke-dasharray="1.6 7.9"/>
<text x="63.0" y="1090.8" font-size="17.8" fill="#605e5c" text-anchor="end" font-weight="normal" >0</text>
<line x1="78.5" y1="997.0" x2="1907.5" y2="997.0" stroke="#c8c8c8" stroke-width="1.6" stroke-dasharray="1.6 7.9"/>
<text x="63.0" y="1003.5" font-size="17.8" fill="#605e5c" text-anchor="end" font-weight="normal" >200</text>
<circle cx="1907.5" cy="1084.2" r="0.9" fill="#c8c8c8"/>
<text x="1925.0" y="1090.8" font-size="17.8" fill="#605e5c" text-anchor="start" font-weight="normal" >0</text>
<circle cx="1907.5" cy="1018.6" r="0.9" fill="#c8c8c8"/>
<text x="1925.0" y="1025.1" font-size="17.8" fill="#605e5c" text-anchor="start" font-weight="normal" >50</text>
<circle cx="1907.5" cy="953.0" r="0.9" fill="#c8c8c8"/>
<text x="1925.0" y="959.5" font-size="17.8" fill="#605e5c" text-anchor="start" font-weight="normal" >100</text>
<text transform="translate(19,1018) rotate(-90)" font-size="16.5" fill="#252423" stroke="#252423" stroke-width="0.25" text-anchor="middle">Total Travel Tim...</text>
<text transform="translate(1979,1018) rotate(-90)" font-size="16.5" fill="#252423" stroke="#252423" stroke-width="0.25" text-anchor="middle">Average Score</text>
<defs><clipPath id="tlc"><rect x="79" y="900" width="1829" height="200"/></clipPath></defs>
<g clip-path="url(#tlc)">
<rect x="76.12" y="1057.50" width="30.80" height="26.75" fill="#3467aa" />
<rect x="108.90" y="1048.00" width="30.80" height="36.25" fill="#3467aa" />
<rect x="141.68" y="1070.25" width="30.80" height="14.00" fill="#3467aa" />
<rect x="240.02" y="1007.50" width="30.80" height="76.75" fill="#3467aa" />
<rect x="272.80" y="1028.50" width="30.80" height="55.75" fill="#3467aa" />
<rect x="305.58" y="1045.75" width="30.80" height="38.50" fill="#3467aa" />
<rect x="338.36" y="1054.25" width="30.80" height="30.00" fill="#3467aa" />
<rect x="371.14" y="1074.25" width="30.80" height="10.00" fill="#3467aa" />
<rect x="436.70" y="1064.00" width="30.80" height="20.25" fill="#3467aa" />
<rect x="469.48" y="1047.50" width="30.80" height="36.75" fill="#3467aa" />
<rect x="502.26" y="1072.25" width="30.80" height="12.00" fill="#3467aa" />
<rect x="535.04" y="966.00" width="30.80" height="118.25" fill="#3467aa" />
<rect x="567.82" y="1049.50" width="30.80" height="34.75" fill="#3467aa" />
<rect x="633.38" y="1069.75" width="30.80" height="14.50" fill="#3467aa" />
<rect x="666.16" y="1064.75" width="30.80" height="19.50" fill="#3467aa" />
<rect x="698.94" y="1056.25" width="30.80" height="28.00" fill="#3467aa" />
<rect x="731.72" y="1046.75" width="30.80" height="37.50" fill="#3467aa" />
<rect x="764.50" y="1048.00" width="30.80" height="36.25" fill="#3467aa" />
<rect x="797.28" y="1070.00" width="30.80" height="14.25" fill="#3467aa" />
<rect x="830.06" y="1053.75" width="30.80" height="30.50" fill="#3467aa" />
<rect x="928.40" y="1042.75" width="30.80" height="41.50" fill="#3467aa" />
<rect x="961.18" y="1067.75" width="30.80" height="16.50" fill="#3467aa" />
<rect x="993.96" y="1076.25" width="30.80" height="8.00" fill="#3467aa" />
<rect x="1026.74" y="1036.00" width="30.80" height="48.25" fill="#3467aa" />
<rect x="1059.52" y="1057.25" width="30.80" height="27.00" fill="#3467aa" />
<rect x="1092.30" y="1070.75" width="30.80" height="13.50" fill="#3467aa" />
<rect x="1125.08" y="1060.25" width="30.80" height="24.00" fill="#3467aa" />
<rect x="1157.86" y="1077.00" width="30.80" height="7.25" fill="#3467aa" />
<rect x="1190.64" y="1061.50" width="30.80" height="22.75" fill="#3467aa" />
<rect x="1223.42" y="1061.00" width="30.80" height="23.25" fill="#3467aa" />
<rect x="1256.20" y="1066.50" width="30.80" height="17.75" fill="#3467aa" />
<rect x="1288.98" y="1069.50" width="30.80" height="14.75" fill="#3467aa" />
<rect x="1354.54" y="1041.25" width="30.80" height="43.00" fill="#3467aa" />
<rect x="1387.32" y="1044.75" width="30.80" height="39.50" fill="#3467aa" />
<rect x="1420.10" y="1049.25" width="30.80" height="35.00" fill="#3467aa" />
<rect x="1452.88" y="1064.50" width="30.80" height="19.75" fill="#3467aa" />
<rect x="1485.66" y="1068.00" width="30.80" height="16.25" fill="#3467aa" />
<rect x="1518.44" y="1066.75" width="30.80" height="17.50" fill="#3467aa" />
<rect x="1551.22" y="1072.00" width="30.80" height="12.25" fill="#3467aa" />
<rect x="1584.00" y="1058.00" width="30.80" height="26.25" fill="#3467aa" />
<rect x="1616.78" y="1074.25" width="30.80" height="10.00" fill="#3467aa" />
<rect x="1649.56" y="1061.25" width="30.80" height="23.00" fill="#3467aa" />
<rect x="1682.34" y="1046.25" width="30.80" height="38.00" fill="#3467aa" />
<rect x="1715.12" y="1031.25" width="30.80" height="53.00" fill="#3467aa" />
<rect x="1747.90" y="1040.75" width="30.80" height="43.50" fill="#3467aa" />
<rect x="1813.46" y="1072.50" width="30.80" height="11.75" fill="#3467aa" />
<rect x="1846.24" y="1051.25" width="30.80" height="33.00" fill="#3467aa" />
<rect x="1879.02" y="1076.75" width="30.80" height="7.50" fill="#3467aa" />
</g>
<polyline points="91.2,1053.0 124.5,1053.8 157.5,1068.0 255.5,1039.2 287.5,1047.0 320.8,1063.2 353.8,1044.5 386.2,1057.0 452.0,993.8 486.2,1015.0 518.8,1047.0 551.5,1007.0 585.0,1045.0 650.0,1029.2 682.5,1034.5 716.2,1050.8 747.5,1050.8 781.2,1043.2 813.8,1055.5 847.0,1063.8 944.5,1051.2 977.5,1054.5 1011.2,1062.0 1043.8,1065.0 1076.2,1036.2 1108.8,1032.5 1142.0,1061.2 1174.2,1072.5 1207.0,1048.0 1240.0,1057.5 1272.5,1058.8 1305.0,1061.8 1370.5,1010.0 1403.0,1053.8 1436.2,1053.8 1469.5,1055.5 1502.5,1068.2 1534.5,1063.8 1567.5,1028.8 1600.5,1056.2 1633.0,1064.5 1665.0,1060.8 1698.8,1046.2 1731.2,1050.0 1765.0,1057.0 1830.0,1058.0 1861.2,1058.8 1895.0,952.5" fill="none" stroke="#a51c30" stroke-width="4.6" stroke-linejoin="round"/>
<text x="452.1" y="1110.0" font-size="18.5" fill="#605e5c" text-anchor="middle" font-weight="normal" >25 Oct</text>
<text x="911.0" y="1110.0" font-size="18.5" fill="#605e5c" text-anchor="middle" font-weight="normal" >08 Nov</text>
<text x="1369.9" y="1110.0" font-size="18.5" fill="#605e5c" text-anchor="middle" font-weight="normal" >22 Nov</text>
<text x="1828.9" y="1110.0" font-size="18.5" fill="#605e5c" text-anchor="middle" font-weight="normal" >06 Dec</text>
<g transform="translate(21.3,1108.5)" fill="none" stroke="#4f4d4b" stroke-width="2.8"><circle r="16.4"/><path d="M-4.6,-2.4 A4.5,4.6 0 1 1 3.2,0.2 C1.5,2 -0.6,3.2 -0.7,6" stroke-width="2.6"/><rect x="-2.1" y="7.6" width="2.8" height="2.8" fill="#4f4d4b" stroke="none"/></g>
</svg>
</div></body></html>
